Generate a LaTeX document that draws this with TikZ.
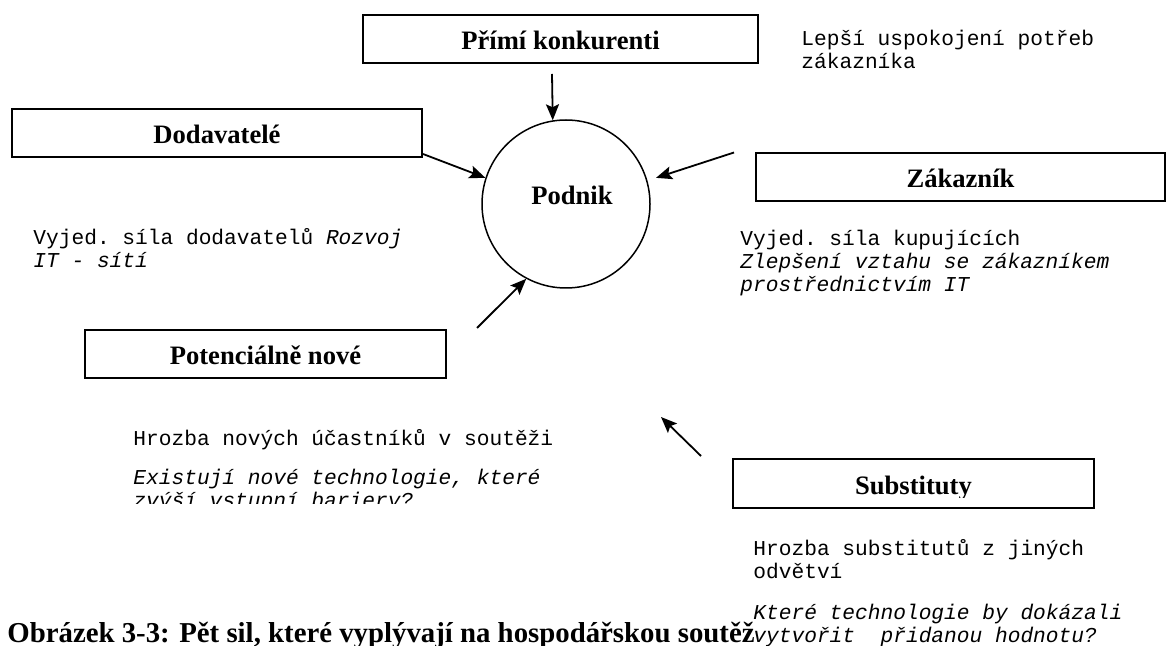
\documentclass[tikz,border=0pt]{standalone}
\usepackage{fontspec}
\setmainfont{Liberation Serif}
\setmonofont{Liberation Mono}
\usepackage{tikz}
\usetikzlibrary{positioning,arrows.meta}

\begin{document}
\begin{tikzpicture}[x=0.5pt,y=-0.5pt,>={Stealth[length=8pt,width=6.5pt,inset=1.5pt]},
    force/.style={draw,line width=1pt,minimum height=24pt,inner sep=0pt,text height=11pt,text depth=0pt,font=\fontsize{13.3}{15}\selectfont\bfseries},
    note/.style={anchor=base west,inner sep=0pt,align=left,font=\fontsize{10.6}{11.5}\selectfont\ttfamily},
    push/.style={->,line width=0.9pt}]
    \useasboundingbox (0,0) rectangle (1167,646);

    \node[force,minimum width=197.5pt] (konk)  at (560.5,39)  {Přímí konkurenti};
    \node[force,minimum width=205pt]   (dodav) at (217,133)   {Dodavatelé};
    \node[force,minimum width=204.5pt] (zakaz) at (960.5,177) {Zákazník};
    \node[force,minimum width=180.5pt] (poten) at (265.5,354) {Potenciálně nové};
    \node[force,minimum width=180.5pt,minimum height=24.5pt] (subst) at (913.5,483.5) {};
    \begin{scope}
      \clip (733,459) rectangle (1094,497.5);
      \node[force,draw=none] (substname) at (subst) {Substituty};
    \end{scope}

    \node[circle,draw,line width=0.75pt,minimum size=84pt,inner sep=0pt] (podnik) at (566,204) {};
    \node[anchor=base,inner sep=0pt,font=\fontsize{13.3}{15}\selectfont\bfseries] (podnikname) at (572,205) {Podnik};

    % texts beside the forces (placed by their last line)
    \node[note] (konknote)  at (801,69)  {Lepší uspokojení potřeb\\zákazníka};
    \node[note] (dodavnote) at (33,268)  {Vyjed. síla dodavatelů \textit{Rozvoj}\\\textit{IT - sítí}};
    \node[note] (zakaznote) at (740,292) {Vyjed. síla kupujících\\\textit{Zlepšení vztahu se zákazníkem}\\\textit{prostřednictvím IT}};
    \begin{scope}
      \clip (100,420) rectangle (640,503.5);
      \node[note] (potennote) at (133,507) {Hrozba nových účastníků v soutěži\\[8pt]\textit{Existují nové technologie, které}\\\textit{zvýší vstupní bariery?}};
    \end{scope}
    \node[note] (substnote) at (753,642) {Hrozba substitutů z jiných\\odvětví\\[9pt]\textit{Které technologie by dokázali}\\\textit{vytvořit\ \ přidanou hodnotu?}};

    \node[anchor=base west,inner sep=0pt,font=\fontsize{14.4}{16}\selectfont\bfseries] (caption) at (7,642) {Obrázek 3-3: Pět sil, které vyplývají na hospodářskou soutěž};

    % free ends of the arrows
    \coordinate (konktail)  at (552,74);
    \coordinate (dodavtail) at (423,154);
    \coordinate (zakaztail) at (734,152.5);
    \coordinate (potentail) at (477,328);
    \coordinate (substtail) at (701,456);
    \coordinate (substtip)  at (661,417);

    % paths pointing at the firm
    \path[push]
    (konktail)  edge                  (podnik.99)
    (dodavtail) edge                  (podnik.162)
    (zakaztail) edge [shorten >=4.5pt] (podnik.16)
    (potentail) edge                  (podnik.-118)
    (substtail) edge                  (substtip);

\end{tikzpicture}
\end{document}
